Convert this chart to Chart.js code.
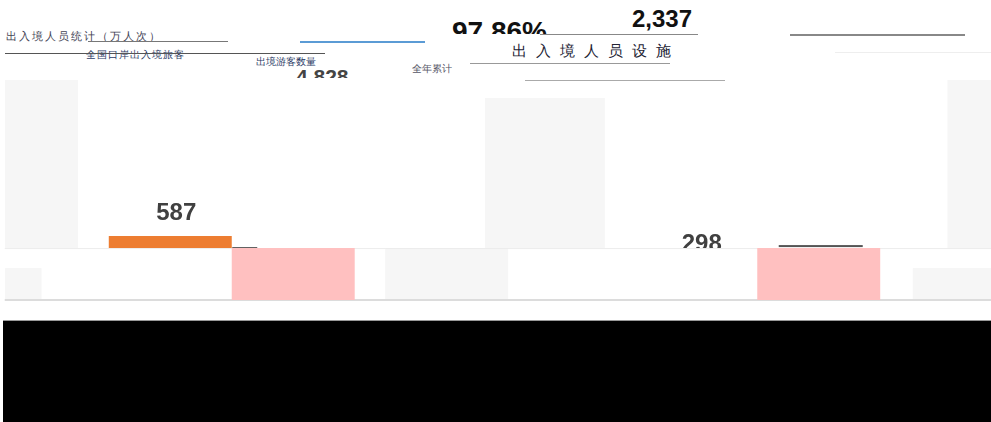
<!DOCTYPE html>
<html lang="zh">
<head>
<meta charset="utf-8">
<script src="https://cdn.jsdelivr.net/npm/chart.js@4/dist/chart.umd.min.js"></script>
<style>
  html, body { margin: 0; width: 991px; height: 422px; overflow: hidden; background: #fff; font-family: "Liberation Sans", Arial, sans-serif; }
  .abs { position: absolute; white-space: nowrap; }
  .clip { position: absolute; overflow: hidden; }
  .ln { position: absolute; height: 1px; }
  #wrap { position: absolute; left: -31px; top: 0; width: 1051px; height: 320px; }
  #black { position: absolute; left: 3px; top: 320px; width: 988px; height: 102px; background: #000; border-top: 1px solid #999; }
</style>
</head>
<body>
<!-- header fragments -->
<div class="abs" style="left:6px;top:29px;font-size:11px;color:#445;letter-spacing:2px">出入境人员统计（万人次）</div>
<div class="abs" style="left:86px;top:48px;font-size:10px;color:#2b3a66;letter-spacing:1px">全国口岸出入境旅客</div>
<div class="abs" style="left:256px;top:55px;font-size:10px;color:#2b3a66">出境游客数量</div>
<div class="abs" style="left:412px;top:62px;font-size:10px;color:#556">全年累计</div>
<div class="abs" style="left:512px;top:42px;font-size:15px;color:#223;letter-spacing:9px">出入境人员设施</div>
<div class="clip" style="left:452px;top:16px;width:110px;height:18px">
  <div class="abs" id="kpi-rate" style="left:0;top:0;font-size:28px;font-weight:bold;color:#111"></div>
</div>
<div class="abs" id="kpi-total" style="left:632px;top:5px;font-size:24px;font-weight:bold;color:#111"></div>
<div class="clip" style="left:296px;top:65px;width:70px;height:13px">
  <div class="abs" id="kpi-sub" style="left:0;top:0;font-size:21px;font-weight:bold;color:#444"></div>
</div>
<div class="ln" style="left:5px;top:53px;width:320px;background:#555"></div>
<div class="ln" style="left:300px;top:41px;width:125px;height:2px;background:#5b9bd5"></div>
<div class="ln" style="left:88px;top:41px;width:140px;background:#777"></div>
<div class="ln" style="left:540px;top:34px;width:158px;background:#888"></div>
<div class="ln" style="left:790px;top:34px;width:175px;height:2px;background:#888"></div>
<div class="ln" style="left:470px;top:63px;width:200px;background:#999"></div>
<div class="ln" style="left:525px;top:80px;width:200px;background:#aaa"></div>
<div class="ln" style="left:835px;top:52px;width:156px;background:#eee"></div>

<div id="wrap"><canvas id="c"></canvas></div>
<div id="black"></div>

<script>
"use strict";

// header figures
const kpiRate = "97.86%";
const kpiTotal = "2,337";
const kpiSub = "4,828";

// chart data
const categories = ["2023年", "2024年"];
const orangeValues = [587, 298];
const pinkValues = [477, 477];

const ORANGE = "#ed7d31";
const PINK = "#ffc0c0";
const BAND = "#f6f6f6";

document.getElementById("kpi-rate").textContent = kpiRate;
document.getElementById("kpi-total").textContent = kpiTotal;
document.getElementById("kpi-sub").textContent = kpiSub;

// light background blocks, as fractions of the chart area [x0, x1, y0, y1]
const bandRects = [
  [0.0343, 0.1037, 0, 0.764], [0.491, 0.605, 0.082, 0.764], [0.931, 1, 0, 0.764],
  [0.0343, 0.069, 0.855, 1], [0.396, 0.513, 0.764, 1], [0.898, 1, 0.855, 1],
];
const SHELF = 0.764; // where the picture breaks

const backdrop = {
  id: "backdrop",
  beforeDatasetsDraw(chart) {
    const { ctx, chartArea: a } = chart;
    const w = a.right - a.left, h = a.bottom - a.top;
    ctx.save();
    ctx.fillStyle = BAND;
    bandRects.forEach(([x0, x1, y0, y1]) => {
      ctx.fillRect(a.left + x0 * w, a.top + y0 * h, (x1 - x0) * w, (y1 - y0) * h);
    });
    ctx.fillStyle = "#ececec";
    ctx.fillRect(a.left + 0.034 * w, a.top + SHELF * h, w, 1);
    ctx.fillStyle = "#dcdcdc";
    ctx.fillRect(a.left + 0.034 * w, a.bottom - 1, w, 2);
    ctx.restore();
  },
  afterDatasetsDraw(chart) {
    const { ctx, chartArea: a } = chart;
    const shelfY = a.top + SHELF * (a.bottom - a.top);
    const meta = chart.getDatasetMeta(0);
    ctx.save();
    ctx.beginPath();
    ctx.rect(a.left, 0, a.right - a.left, shelfY);
    ctx.clip();
    ctx.fillStyle = "#404040";
    ctx.font = "bold 24px 'Liberation Sans', Arial, sans-serif";
    ctx.textAlign = "center";
    ctx.textBaseline = "bottom";
    meta.data.forEach((bar, i) => {
      ctx.fillText(orangeValues[i].toLocaleString(), bar.x + 6, bar.y - 11);
    });
    // short dark marks on the break
    ctx.fillStyle = "#555";
    const p = chart.getDatasetMeta(1).data;
    ctx.fillRect(p[0].x - 61, shelfY - 1, 25, 2);
    ctx.fillRect(p[1].x - 40, shelfY - 3, 84, 2);
    ctx.restore();
  },
};

const cut = 220 * (1 - SHELF);

new Chart(document.getElementById("c"), {
  type: "bar",
  data: {
    labels: categories,
    datasets: [
      { label: "出境", data: orangeValues, backgroundColor: ORANGE,
        clip: { left: 0, top: 0, right: 0, bottom: -cut } },
      { label: "入境", data: pinkValues, backgroundColor: PINK },
    ],
  },
  options: {
    responsive: true,
    maintainAspectRatio: false,
    animation: false,
    layout: { padding: { top: 80, bottom: 20, left: 0, right: 0 } },
    datasets: { bar: { barPercentage: 1, categoryPercentage: 0.468 } },
    plugins: { legend: { display: false }, tooltip: { enabled: false } },
    scales: {
      x: { display: false },
      y: { display: false, min: 0, max: 2020 },
    },
  },
  plugins: [backdrop],
});
</script>
</body>
</html>
